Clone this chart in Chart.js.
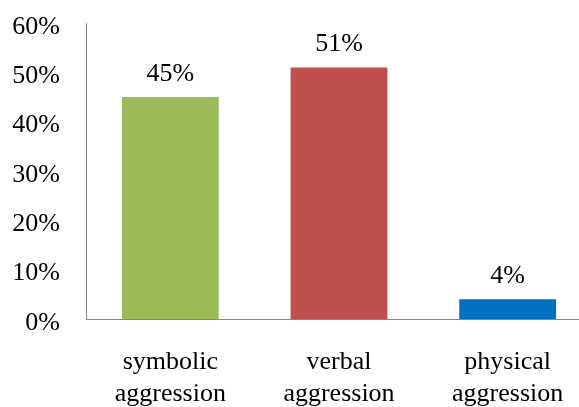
<!DOCTYPE html>
<html>
<head>
<meta charset="utf-8">
<script src="https://cdn.jsdelivr.net/npm/chart.js@4/dist/chart.umd.min.js"></script>
<style>
  html, body { margin: 0; padding: 0; background: #fff; overflow: hidden; }
  #wrap { width: 600px; height: 407px; }
</style>
</head>
<body>
<div id="wrap"><canvas id="c" width="600" height="407"></canvas></div>
<script>
// Share of each aggression type (percent)
const categories = [['symbolic', 'aggression'], ['verbal', 'aggression'], ['physical', 'aggression']];
const shares = [45, 51, 4];
const barColors = ['#9BBB59', '#C0504D', '#0070C0'];
const yMax = 60;
const yStep = 10;

const FONT = '"Liberation Serif", "Times New Roman", serif';

// Writes the percentage above each bar
const valueLabels = {
  id: 'valueLabels',
  afterDatasetsDraw(chart) {
    const ctx = chart.ctx;
    const meta = chart.getDatasetMeta(0);
    ctx.save();
    ctx.font = '26px ' + FONT;
    ctx.fillStyle = '#000';
    ctx.textAlign = 'center';
    ctx.textBaseline = 'middle';
    meta.data.forEach((bar, i) => {
      const p = bar.getProps(['x', 'y'], true);
      ctx.fillText(shares[i] + '%', p.x, p.y - 23);
    });
    ctx.restore();
  }
};

new Chart(document.getElementById('c'), {
  type: 'bar',
  data: {
    labels: categories,
    datasets: [{
      data: shares,
      backgroundColor: barColors,
      borderWidth: 0,
      categoryPercentage: 1,
      barPercentage: 0.574
    }]
  },
  options: {
    responsive: false,
    animation: false,
    events: [],
    layout: { padding: { left: 0, right: 8, top: 23, bottom: 0 } },
    plugins: { legend: { display: false }, tooltip: { enabled: false } },
    scales: {
      x: {
        grid: { display: false, drawTicks: false },
        border: { display: true, color: '#868686', width: 1 },
        ticks: {
          color: '#000',
          font: { family: FONT, size: 26, lineHeight: 1.24 },
          padding: 27,
          maxRotation: 0,
          autoSkip: false
        },
        afterFit(scale) { scale.height = 88; }
      },
      y: {
        min: 0,
        max: yMax,
        grid: { display: false, drawTicks: false },
        border: { display: true, color: '#868686', width: 1 },
        ticks: {
          stepSize: yStep,
          color: '#000',
          font: { family: FONT, size: 26 },
          padding: 26,
          labelOffset: 4,
          callback: v => v + '%'
        },
        afterFit(scale) {
          scale.width = 86;
          scale.paddingTop = 0;
          scale.paddingBottom = 0;
        }
      }
    }
  },
  plugins: [valueLabels]
});
</script>
</body>
</html>
